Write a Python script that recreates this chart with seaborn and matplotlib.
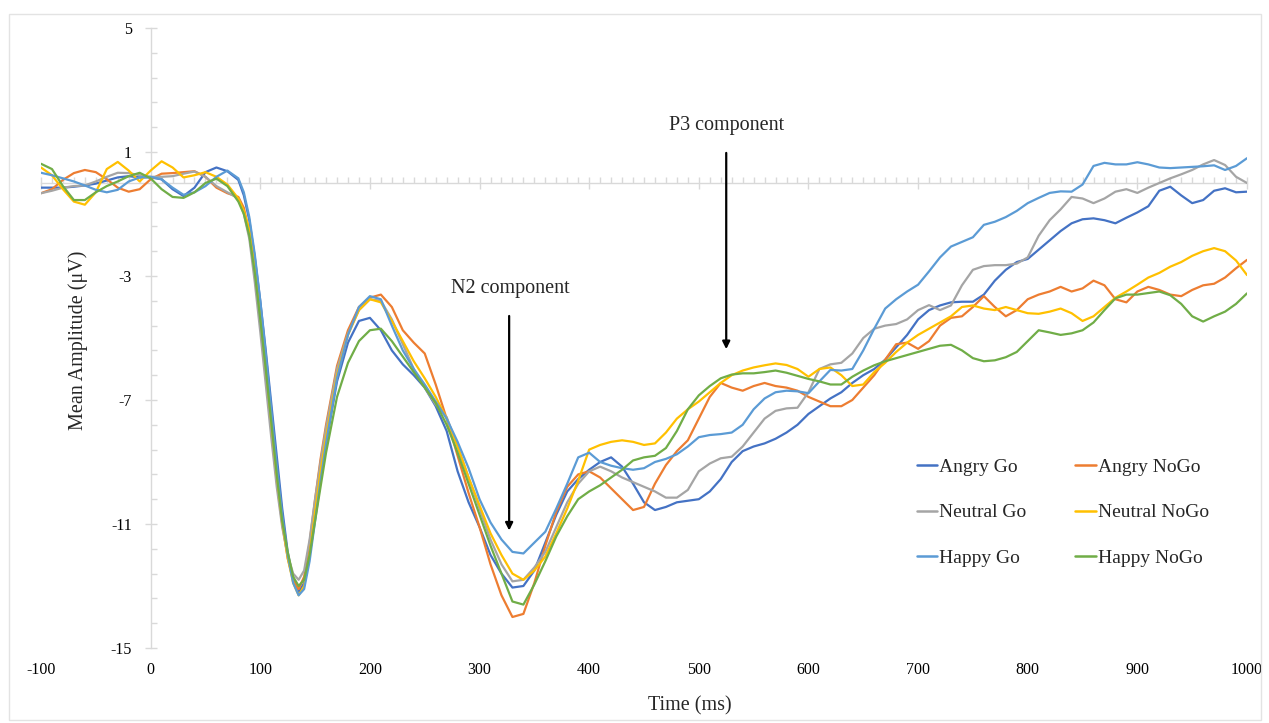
import numpy as np
import pandas as pd
import matplotlib
matplotlib.use("Agg")
import matplotlib.pyplot as plt
import seaborn as sns
from matplotlib.lines import Line2D
from matplotlib.patches import Rectangle
from matplotlib.ticker import MultipleLocator, FixedLocator

# sampling grid (ms): 10 ms, finer around the fast N1 deflection
times = list(range(-100, 80, 10)) + list(range(80, 160, 5)) + list(range(160, 1001, 10))

angry_go = [
    -0.15, -0.15, -0.15, -0.12, -0.08, -0.02, 0.08, 0.18, 0.22, 0.18, 0.18, 0.12, -0.2, -0.42, -0.15, 0.35, 0.5, 0.38,
    0.1, -0.4, -1.2, -2.4, -3.8, -5.4, -7.1, -8.8, -10.5, -11.9, -12.8, -13.2, -12.9, -12.0, -10.8, -9.6,
    -8.4, -6.4, -5.15, -4.45, -4.35, -4.75, -5.4, -5.85, -6.2, -6.6,
    -7.2, -8.0, -9.3, -10.3, -11.1, -12.0, -12.6, -13.05, -13.0, -12.5,
    -11.6, -10.7, -9.95, -9.55, -9.25, -9.0, -8.85, -9.15, -9.7, -10.3,
    -10.55, -10.45, -10.3, -10.25, -10.2, -9.95, -9.55, -9.0, -8.65, -8.5,
    -8.4, -8.25, -8.05, -7.8, -7.45, -7.2, -6.95, -6.75, -6.45, -6.2,
    -6.0, -5.7, -5.3, -4.9, -4.4, -4.1, -3.95, -3.85, -3.83, -3.83,
    -3.6, -3.15, -2.8, -2.55, -2.45, -2.15, -1.85, -1.55, -1.3, -1.17,
    -1.14, -1.2, -1.3, -1.12, -0.95, -0.75, -0.25, -0.12, -0.4, -0.65,
    -0.55, -0.25, -0.17, -0.3, -0.28,
]

angry_nogo = [
    -0.33, -0.2, 0.1, 0.32, 0.42, 0.35, 0.12, -0.15, -0.28, -0.2, 0.12, 0.3, 0.32, 0.35, 0.38, 0.2, -0.15, -0.33,
    -0.45, -0.8, -1.6, -3.0, -4.5, -6.2, -7.9, -9.6, -11.0, -12.1, -12.8, -13.1, -12.7, -11.6, -10.2, -8.9,
    -7.8, -5.9, -4.75, -4.0, -3.7, -3.6, -4.0, -4.75, -5.15, -5.5,
    -6.5, -7.6, -8.8, -10.0, -11.1, -12.3, -13.3, -14.0, -13.9, -12.9,
    -11.7, -10.6, -9.8, -9.4, -9.3, -9.5, -9.85, -10.2, -10.55, -10.45,
    -9.7, -9.1, -8.65, -8.3, -7.6, -6.9, -6.45, -6.6, -6.7, -6.55,
    -6.45, -6.55, -6.6, -6.7, -6.9, -7.05, -7.2, -7.2, -7.0, -6.6,
    -6.2, -5.7, -5.2, -5.15, -5.35, -5.1, -4.6, -4.35, -4.3, -4.0,
    -3.65, -4.0, -4.3, -4.1, -3.75, -3.6, -3.5, -3.35, -3.5, -3.4,
    -3.15, -3.3, -3.75, -3.85, -3.5, -3.35, -3.45, -3.6, -3.65, -3.45,
    -3.3, -3.25, -3.05, -2.75, -2.48,
]

neutral_go = [
    -0.33, -0.25, -0.15, -0.1, -0.08, 0.05, 0.2, 0.33, 0.32, 0.25, 0.2, 0.2, 0.22, 0.3, 0.37, 0.2, -0.1, -0.3,
    -0.5, -1.0, -1.8, -3.2, -4.8, -6.5, -8.2, -9.8, -11.1, -12.0, -12.6, -12.8, -12.5, -11.5, -10.2, -9.0,
    -7.9, -6.0, -4.85, -4.1, -3.75, -3.8, -4.4, -5.2, -6.0, -6.6,
    -7.15, -7.55, -8.5, -9.5, -10.5, -11.5, -12.3, -12.85, -12.8, -12.4,
    -11.9, -11.1, -10.3, -9.7, -9.3, -9.15, -9.3, -9.5, -9.65, -9.8,
    -9.95, -10.15, -10.15, -9.9, -9.3, -9.05, -8.88, -8.83, -8.5, -8.05,
    -7.6, -7.35, -7.27, -7.25, -6.75, -6.0, -5.85, -5.8, -5.5, -5.0,
    -4.7, -4.6, -4.55, -4.4, -4.1, -3.94, -4.1, -3.95, -3.3, -2.8,
    -2.68, -2.65, -2.65, -2.6, -2.4, -1.7, -1.2, -0.85, -0.45, -0.5,
    -0.65, -0.5, -0.28, -0.2, -0.32, -0.15, 0.0, 0.15, 0.28, 0.42,
    0.6, 0.74, 0.58, 0.2, 0.0,
]

neutral_nogo = [
    0.5, 0.25, -0.2, -0.6, -0.7, -0.3, 0.45, 0.68, 0.4, 0.05, 0.4, 0.7, 0.5, 0.18, 0.25, 0.35, 0.2, -0.05,
    -0.5, -0.9, -1.5, -2.7, -4.2, -5.9, -7.7, -9.4, -10.9, -12.1, -12.9, -13.3, -13.0, -12.0, -10.6, -9.3,
    -8.2, -6.2, -4.9, -4.1, -3.75, -3.85, -4.45, -5.1, -5.75, -6.3,
    -6.9, -7.6, -8.5, -9.5, -10.4, -11.3, -12.0, -12.6, -12.8, -12.5,
    -12.05, -11.3, -10.5, -9.6, -8.6, -8.45, -8.35, -8.3, -8.35, -8.45,
    -8.4, -8.05, -7.6, -7.3, -7.05, -6.75, -6.45, -6.2, -6.05, -5.95,
    -5.88, -5.82, -5.87, -6.0, -6.25, -6.0, -5.95, -6.2, -6.55, -6.5,
    -6.1, -5.8, -5.45, -5.15, -4.9, -4.7, -4.5, -4.3, -4.0, -3.95,
    -4.05, -4.1, -4.0, -4.1, -4.2, -4.22, -4.15, -4.05, -4.2, -4.45,
    -4.3, -4.0, -3.7, -3.5, -3.28, -3.05, -2.9, -2.7, -2.55, -2.35,
    -2.2, -2.1, -2.2, -2.5, -2.97,
]

happy_go = [
    0.33, 0.25, 0.15, 0.05, -0.08, -0.22, -0.3, -0.22, 0.05, 0.18, 0.2, 0.12, -0.15, -0.38, -0.3, -0.1, 0.2, 0.4,
    0.15, -0.3, -1.1, -2.3, -3.8, -5.5, -7.3, -9.1, -10.7, -12.0, -12.9, -13.3, -13.1, -12.2, -10.9, -9.6,
    -8.4, -6.3, -4.9, -4.0, -3.65, -3.75, -4.6, -5.4, -6.0, -6.5,
    -7.05, -7.6, -8.35, -9.2, -10.2, -10.95, -11.5, -11.9, -11.95, -11.6,
    -11.25, -10.5, -9.7, -8.85, -8.7, -9.0, -9.12, -9.2, -9.25, -9.2,
    -9.0, -8.9, -8.75, -8.5, -8.2, -8.13, -8.1, -8.05, -7.8, -7.3,
    -6.95, -6.75, -6.7, -6.72, -6.78, -6.4, -6.03, -6.05, -6.0, -5.4,
    -4.7, -4.05, -3.75, -3.5, -3.28, -2.85, -2.4, -2.05, -1.9, -1.75,
    -1.35, -1.25, -1.1, -0.9, -0.65, -0.48, -0.32, -0.27, -0.28, -0.05,
    0.55, 0.65, 0.6, 0.6, 0.67, 0.6, 0.5, 0.48, 0.5, 0.52,
    0.54, 0.57, 0.42, 0.55, 0.8,
]

happy_nogo = [
    0.62, 0.45, -0.1, -0.55, -0.55, -0.3, -0.1, 0.05, 0.22, 0.33, 0.15, -0.2, -0.45, -0.48, -0.3, 0.0, 0.14, -0.1,
    -0.6, -1.0, -1.7, -2.9, -4.4, -6.0, -7.7, -9.4, -10.9, -11.9, -12.7, -13.0, -12.8, -12.0, -10.9, -9.8,
    -8.7, -6.9, -5.8, -5.1, -4.75, -4.7, -5.1, -5.6, -6.1, -6.6,
    -7.1, -7.8, -8.7, -9.7, -10.7, -11.7, -12.6, -13.5, -13.6, -12.95,
    -12.2, -11.4, -10.75, -10.2, -9.95, -9.75, -9.5, -9.25, -8.95, -8.85,
    -8.8, -8.55, -8.0, -7.3, -6.85, -6.55, -6.3, -6.18, -6.14, -6.14,
    -6.1, -6.05, -6.12, -6.22, -6.32, -6.4, -6.5, -6.5, -6.25, -6.05,
    -5.88, -5.75, -5.65, -5.55, -5.45, -5.35, -5.25, -5.22, -5.4, -5.65,
    -5.75, -5.72, -5.62, -5.45, -5.1, -4.75, -4.82, -4.9, -4.85, -4.75,
    -4.5, -4.1, -3.72, -3.6, -3.6, -3.55, -3.5, -3.62, -3.9, -4.3,
    -4.47, -4.3, -4.15, -3.9, -3.56,
]

conditions = ["Angry Go", "Angry NoGo", "Neutral Go", "Neutral NoGo", "Happy Go", "Happy NoGo"]
series = [angry_go, angry_nogo, neutral_go, neutral_nogo, happy_go, happy_nogo]
colors = ["#4472C4", "#ED7D31", "#A5A5A5", "#FFC000", "#5B9BD5", "#70AD47"]
x_ticks = [-100, 0, 100, 200, 300, 400, 500, 600, 700, 800, 900, 1000]
y_ticks = [-15, -11, -7, -3, 1, 5]

frames = []
for name, vals in zip(conditions, series):
    assert len(vals) == len(times), (name, len(vals), len(times))
    frames.append(pd.DataFrame({"time": times, "amp": vals, "condition": name}))
df = pd.concat(frames, ignore_index=True)

sns.set_theme(style="white")
plt.rcParams["font.family"] = ["Liberation Serif", "DejaVu Serif"]
plt.rcParams["axes.unicode_minus"] = False

W, H = 1269, 723
fig = plt.figure(figsize=(W / 100, H / 100), dpi=100)
ax = fig.add_axes([41 / W, 1 - 648 / H, (1247 - 41) / W, (648 - 28) / H])

sns.lineplot(data=df, x="time", y="amp", hue="condition", hue_order=conditions,
             palette=colors, estimator=None, sort=False, lw=1.6, legend=False, ax=ax)

ax.set_xlim(-100, 1000)
ax.set_ylim(-15, 5)
ax.set_xlabel("")
ax.set_ylabel("")

grey = "#D9D9D9"
for s in ["top", "right"]:
    ax.spines[s].set_visible(False)
ax.spines["bottom"].set_position(("data", 0))
ax.spines["left"].set_position(("data", 0))
for s in ["bottom", "left"]:
    ax.spines[s].set_color(grey)
    ax.spines[s].set_linewidth(1.0)
    ax.spines[s].set_zorder(0.5)

ax.xaxis.set_major_locator(FixedLocator(x_ticks))
ax.xaxis.set_minor_locator(MultipleLocator(10))
ax.yaxis.set_major_locator(FixedLocator(y_ticks))
ax.yaxis.set_minor_locator(FixedLocator(np.arange(-15, 5.01, 0.8)))
ax.tick_params(axis="both", which="both", bottom=True, left=True, top=False, right=False)
ax.tick_params(axis="x", which="major", direction="inout", length=9, width=1, color=grey, labelbottom=False)
ax.tick_params(axis="x", which="minor", direction="in", length=4, width=1, color=grey)
ax.tick_params(axis="y", which="major", direction="inout", length=9, width=1, color=grey,
               labelsize=11.5, pad=9, labelcolor="black")
ax.tick_params(axis="y", which="minor", direction="in", length=4, width=1, color=grey)

sec = ax.secondary_xaxis("bottom")
sec.xaxis.set_major_locator(FixedLocator(x_ticks))
sec.spines["bottom"].set_visible(False)
sec.tick_params(axis="x", length=0, pad=10, labelsize=11.5, labelcolor="black")

# annotations
ax.annotate("", xy=(327, -11.3), xytext=(327, -4.2),
            arrowprops=dict(arrowstyle="-|>", color="black", lw=1.6, mutation_scale=11))
ax.text(328, -3.39, "N2 component", ha="center", va="center", fontsize=14.5)
ax.annotate("", xy=(525, -5.45), xytext=(525, 1.06),
            arrowprops=dict(arrowstyle="-|>", color="black", lw=1.6, mutation_scale=11))
ax.text(525, 1.87, "P3 component", ha="center", va="center", fontsize=14.5)

fig.text(690 / W, 1 - 706 / H, "Time (ms)", ha="center", va="center", fontsize=14.5)
fig.text(78 / W, 1 - 340 / H, "Mean Amplitude (μV)", ha="center", va="center",
         rotation=90, fontsize=14.5)

# legend laid out row-wise like the original
order = [0, 2, 4, 1, 3, 5]
handles = [Line2D([], [], color=colors[i], lw=1.8) for i in order]
labels = [conditions[i] for i in order]
ax.legend(handles, labels, ncol=2, loc="upper left", bbox_to_anchor=(917 / W, 1 - 458 / H),
          bbox_transform=fig.transFigure, frameon=False, fontsize=14,
          handlelength=1.05, handletextpad=0.1, columnspacing=2.5, labelspacing=1.45,
          borderpad=0, borderaxespad=0)

fig.patches.append(Rectangle((9 / W, 3 / H), 1 - 17 / W, 1 - 17 / H, transform=fig.transFigure,
                             fill=False, edgecolor="#E3E3E3", lw=1.0))

fig.savefig("out.png", dpi=100, facecolor="white")
